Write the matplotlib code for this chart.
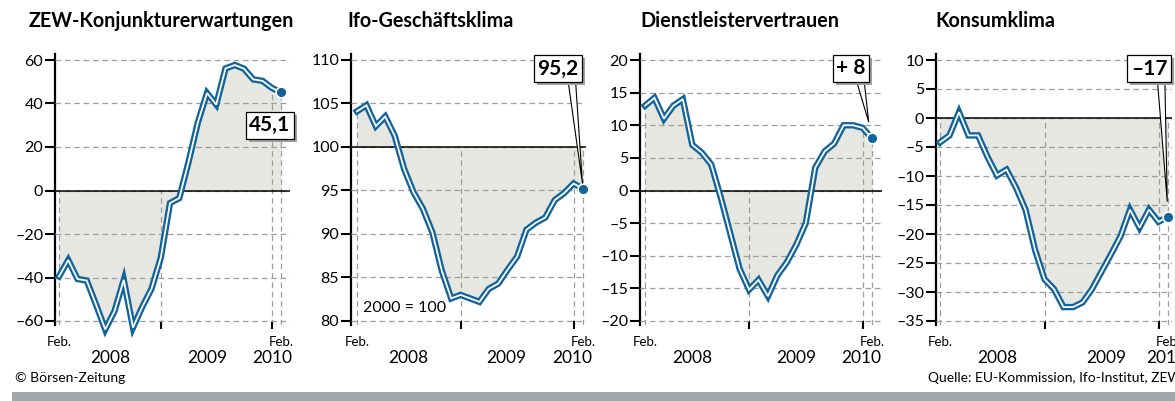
import matplotlib.pyplot as plt
import matplotlib.patheffects as pe
from matplotlib.patches import Rectangle
from matplotlib.ticker import FuncFormatter
import numpy as np

plt.rcParams['font.family'] = ['Lato', 'DejaVu Sans']

# months Feb 2008 .. Feb 2010
n_months = 25
x = np.arange(n_months)

titles = ['ZEW-Konjunkturerwartungen', 'Ifo-Geschäftsklima', 'Dienstleistervertrauen', 'Konsumklima']
callouts = ['45,1', '95,2', '+ 8', '–17']
baselines = [0, 100, 0, 0]

zew = [-39.5, -32.0, -40.7, -41.4, -52.4, -63.9, -55.5, -41.1, -63.0, -53.5, -45.2, -31.0,
       -5.8, -3.5, 13.0, 31.1, 44.8, 39.5, 56.1, 57.7, 56.0, 51.1, 50.4, 47.2, 45.1]
ifo = [104.1, 104.8, 102.4, 103.5, 101.3, 97.5, 94.8, 92.9, 90.2, 85.8, 82.6, 83.0,
       82.6, 82.2, 83.7, 84.3, 85.9, 87.4, 90.5, 91.3, 91.9, 93.9, 94.7, 95.8, 95.2]
dienst = [13.0, 14.2, 11.0, 13.0, 14.0, 7.0, 5.8, 4.0, -1.0, -6.5, -12.0, -15.2,
          -13.7, -16.2, -13.0, -11.0, -8.3, -5.0, 3.5, 6.0, 7.2, 10.0, 10.0, 9.6, 8.0]
konsum = [-4.2, -3.0, 1.0, -3.0, -3.0, -6.7, -9.9, -8.9, -12.0, -15.8, -22.7, -27.8,
          -29.5, -32.6, -32.6, -31.8, -29.5, -26.5, -23.5, -20.4, -15.8, -18.9, -15.8, -17.9, -17.0]
series = [zew, ifo, dienst, konsum]

yticks = [np.arange(-60, 61, 20), np.arange(80, 111, 5), np.arange(-20, 21, 5), np.arange(-35, 11, 5)]
year_labels = ['2008', '2009', '2010']
year_marks = [0, 11, 23, 24]   # dashed verticals: Feb 08, Jan 09, Jan 10, Feb 10

# layout in pixels: spine x, first point x, last point x, right edge, title x
W, H = 1175, 401
layout = [
    dict(spine=55, first=59, last=281, right=290, title=29, years=[5.5, 16.0, 23.1],
         off=(-11, -33), relpos=None, shrink=0),
    dict(spine=351, first=357, last=583, right=586, title=347, years=[5.4, 15.9, 22.9],
         off=(-25, 120), relpos=(0.83, 0), shrink=4),
    dict(spine=640, first=645, last=872, right=882, title=640, years=[5.0, 16.0, 22.9],
         off=(-21, 70), relpos=(0.8, 0), shrink=12),
    dict(spine=936, first=940, last=1168, right=1172, title=935, years=[6.0, 17.5, 23.8],
         off=(-19, 148), relpos=(0.83, 0), shrink=11),
]
ax_top, ax_bot = 54, 325        # axes box in pixels
grid_top, grid_bot = 60, 321    # top/bottom gridline in pixels

blue = '#12639a'
fill_col = '#e7e7e2'
grid_col = '#9d9d9d'
dash = (0, (4.5, 3))

fig = plt.figure(figsize=(W / 100, H / 100), dpi=100)

for i, lay in enumerate(layout):
    vals = np.array(series[i])
    base = baselines[i]
    ticks = yticks[i]
    ax = fig.add_axes([lay['spine'] / W, (H - ax_bot) / H,
                       (lay['right'] - lay['spine']) / W, (ax_bot - ax_top) / H])

    kx = (lay['last'] - lay['first']) / (n_months - 1)
    ax.set_xlim(-(lay['first'] - lay['spine']) / kx,
                n_months - 1 + (lay['right'] - lay['last']) / kx)
    ky = (grid_bot - grid_top) / (ticks.max() - ticks.min())
    ylo = ticks.min() - (ax_bot - grid_bot) / ky
    ax.set_ylim(ylo, ticks.max() + (grid_top - ax_top) / ky)

    ax.fill_between(x, vals, base, color=fill_col, lw=0, zorder=1)
    ax.set_yticks(ticks)
    ax.yaxis.set_major_formatter(FuncFormatter(lambda v, p: f'{v:.0f}'.replace('-', '–')))
    ax.grid(axis='y', color=grid_col, linestyle=dash, linewidth=0.9)
    ax.set_axisbelow(False)
    for m in year_marks:
        ax.vlines(m, ylo, max(base, vals[m]), color=grid_col, linestyle=dash, linewidth=0.9, zorder=2)
    ax.axhline(base, color='black', lw=1.1, zorder=3)

    ax.plot(x, vals, color=blue, lw=4.6, zorder=4, clip_on=False, solid_joinstyle='miter')
    ax.plot(x, vals, color='white', lw=1.3, zorder=4.1, clip_on=False, solid_joinstyle='miter')
    ax.plot(x[-1], vals[-1], 'o', ms=7.8, color=blue, mec='white', mew=1.2, zorder=5, clip_on=False)

    for s in ['top', 'right', 'bottom']:
        ax.spines[s].set_visible(False)
    ax.spines['left'].set_linewidth(1.6)
    ax.tick_params(axis='y', length=7, width=1.5, pad=1.5, labelsize=11.5, colors='black')
    ax.set_xticks([11, 23])
    ax.tick_params(axis='x', direction='inout', length=6, width=1.5, labelbottom=False)

    xt = ax.get_xaxis_transform()
    for m in [0, n_months - 1]:
        ax.text(m, -0.063, 'Feb.', transform=xt, ha='center', va='center', fontsize=9.5)
    for lbl, pos in zip(year_labels, lay['years']):
        ax.text(pos, -0.12, lbl, transform=xt, ha='center', va='center', fontsize=12.5)

    fig.text(lay['title'] / W, (H - 27) / H, titles[i], fontsize=14.2, fontweight='bold',
             ha='left', va='baseline')

    arrow = None
    if lay['relpos'] is not None:
        arrow = dict(arrowstyle='wedge,tail_width=0.35', fc='white', ec='black', lw=0.8,
                     relpos=lay['relpos'], shrinkA=0, shrinkB=lay['shrink'])
    ann = ax.annotate(callouts[i], xy=(x[-1], vals[-1]), xytext=lay['off'], textcoords='offset pixels',
                      ha='center', va='center', fontsize=15, fontweight='bold',
                      bbox=dict(boxstyle='square,pad=0.17', fc='white', ec='black', lw=0.9),
                      arrowprops=arrow, annotation_clip=False, zorder=6)
    ann.get_bbox_patch().set_path_effects([
        pe.SimplePatchShadow(offset=(2.2, -2.2), shadow_rgbFace='#a0a0a0', alpha=1), pe.Normal()])

ax2 = fig.axes[1]
ax2.text(0.051, 0.063, '2000 = 100', transform=ax2.transAxes, ha='left', va='center', fontsize=11.5)

fig.text(15 / W, (H - 378) / H, '© Börsen-Zeitung', fontsize=10, ha='left', va='center')
fig.text(928 / W, (H - 378) / H, 'Quelle: EU-Kommission, Ifo-Institut, ZEW', fontsize=10,
         ha='left', va='center')
fig.patches.append(Rectangle((12 / W, 0), 1, 9 / H, transform=fig.transFigure,
                             color='#a6a7a9', lw=0))

fig.savefig('out.png', dpi=100)
